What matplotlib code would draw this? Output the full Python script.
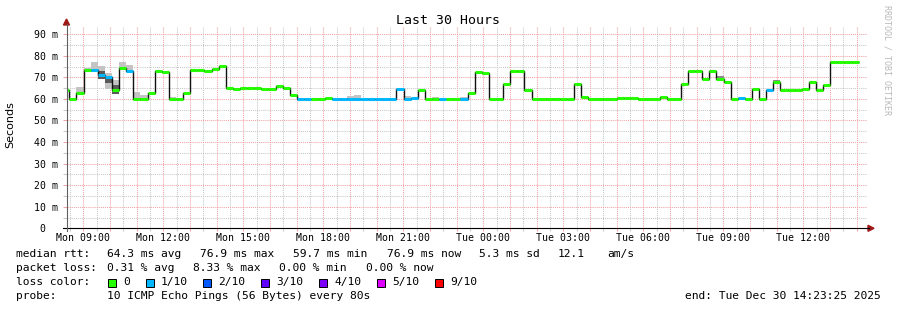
import matplotlib
matplotlib.use('Agg')
import matplotlib.pyplot as plt
from matplotlib.patches import Rectangle, Polygon
from matplotlib.lines import Line2D

# ---------------- data ----------------
# median RTT per 16-minute step (ms)
median_ms = [
    64.2, 60.1, 62.6, 73.3, 73.3, 71.1, 70.3, 64.1, 74.2, 73.0,
    60.1, 60.1, 62.6, 73.0, 72.5, 60.1, 60.1, 62.9, 73.4, 73.4,
    73.1, 74.0, 75.1, 64.9, 64.8, 64.9, 64.9, 64.9, 64.8, 64.8,
    66.1, 65.2, 62.0, 60.0, 60.0, 60.0, 60.0, 60.2, 59.9, 59.9,
    60.0, 60.0, 59.9, 59.9, 59.9, 59.9, 59.9, 64.5, 60.1, 60.6,
    64.0, 60.0, 60.0, 60.0, 60.0, 60.0, 60.0, 62.6, 72.5, 72.0,
    60.0, 60.0, 67.1, 73.0, 72.8, 64.0, 60.0, 60.0, 60.0, 60.0,
    60.0, 60.0, 66.9, 61.0, 60.1, 60.0, 60.0, 60.0, 60.5, 60.5,
    60.5, 60.0, 60.0, 60.0, 61.1, 60.0, 60.0, 66.8, 72.8, 72.8,
    69.2, 73.1, 69.3, 67.7, 60.0, 60.4, 60.0, 64.4, 60.0, 64.1,
    68.0, 64.0, 64.0, 64.0, 64.4, 67.8, 64.0, 66.6, 77.0, 77.0,
    76.9, 76.9,
]
# packet loss per step, in tenths
loss_tenths = [
    0, 0, 0, 0, 1, 1, 1, 0, 0, 1,
    0, 0, 0, 0, 0, 0, 0, 0, 0, 0,
    0, 0, 0, 0, 0, 0, 0, 0, 0, 0,
    0, 0, 0, 1, 1, 0, 0, 0, 1, 1,
    1, 1, 1, 1, 1, 1, 1, 1, 1, 1,
    0, 0, 0, 1, 0, 0, 1, 0, 0, 0,
    0, 0, 0, 0, 0, 0, 0, 0, 0, 0,
    0, 0, 0, 0, 0, 0, 0, 0, 0, 0,
    0, 0, 0, 0, 0, 0, 0, 0, 0, 0,
    0, 0, 0, 0, 0, 1, 0, 0, 0, 1,
    0, 0, 0, 0, 0, 0, 0, 0, 0, 0,
    0, 0,
]
# smoke (ping spread) for steps where it is visible
smoke_idx = [2, 3, 4, 5, 6, 7, 8, 9, 10, 11, 15, 40, 41, 48, 52, 56, 92, 100, 102]
smoke_lo = [62.5, 73.0, 72.5, 69.1, 64.6, 62.4, 73.5, 72.5, 60.0, 60.0,
            60.0, 60.0, 60.0, 60.0, 60.0, 60.0, 69.3, 68.0, 64.0]
smoke_hi = [65.4, 74.2, 77.1, 75.3, 72.2, 68.8, 77.0, 75.5, 63.3, 62.0,
            61.0, 61.5, 62.0, 61.2, 60.8, 60.8, 70.6, 68.9, 64.6]
dark_idx = [5, 6, 7]
dark_lo = [69.1, 67.2, 62.4]
dark_hi = [73.0, 70.3, 66.6]
mid_idx = [92, 100]
mid_lo = [69.3, 68.0]
mid_hi = [70.6, 68.9]

# time axis (hours since Mon 08:23:25)
step_hours = 960 / 3600.0
first_step_end = 0.086
hour0 = 0.6097  # Mon 09:00
x_tick_labels = ["Mon 09:00", "Mon 12:00", "Mon 15:00", "Mon 18:00", "Mon 21:00",
                 "Tue 00:00", "Tue 03:00", "Tue 06:00", "Tue 09:00", "Tue 12:00"]
y_tick_values = [0, 10, 20, 30, 40, 50, 60, 70, 80, 90]
y_tick_labels = ["0  ", "10 m", "20 m", "30 m", "40 m", "50 m", "60 m", "70 m", "80 m", "90 m"]

loss_levels = ["0", "1/10", "2/10", "3/10", "4/10", "5/10", "9/10"]
loss_colors = ["#26ff00", "#00b8ff", "#0059ff", "#5e00ff", "#7e00ff", "#dd00ff", "#ff0000"]

stats_rtt = ["64.3 ms avg", "76.9 ms max", "59.7 ms min", "76.9 ms now", "5.3 ms sd", "12.1", "am/s"]
stats_loss = ["0.31 % avg", "8.33 % max", "0.00 % min", "0.00 % now"]

# ---------------- figure ----------------
W, H = 897, 310
plt.rcParams['font.family'] = ['DejaVu Sans Mono']
fig = plt.figure(figsize=(W / 100, H / 100), dpi=100)
fig.patch.set_facecolor('white')


def fx(px):
    return px / W


def fy(py):
    return 1 - py / H


L, R, B, T = 67, 867, 228.3, 26
ax = fig.add_axes([fx(L), fy(B), (R - L) / W, (B - T) / H])
ax.set_xlim(0, 30)
ax.set_ylim(0, 93.8)
ax.set_facecolor('white')
for s in ax.spines.values():
    s.set_visible(False)

n = len(median_ms)
edges = [0.0] + [first_step_end + k * step_hours for k in range(n)]

# smoke
def bars(idx, lo, hi, color):
    for i, a, b in zip(idx, lo, hi):
        ax.bar(edges[i], b - a, bottom=a, width=edges[i + 1] - edges[i],
               align='edge', color=color, linewidth=0, zorder=2)

bars(smoke_idx, smoke_lo, smoke_hi, '#c4c4c4')
bars(mid_idx, mid_lo, mid_hi, '#8c8c8c')
bars(dark_idx, dark_lo, dark_hi, '#5a5a5a')

# median line
ax.stairs(median_ms, edges, baseline=None, color='#111111', linewidth=1.0, zorder=3)
# loss-coloured median bars
cols = [loss_colors[l] for l in loss_tenths]
hl = ax.hlines(median_ms, edges[:-1], edges[1:], colors=cols, linewidth=2.2, zorder=4)
hl.set_capstyle('butt')

# grid & ticks
major_x = [hour0 + k for k in range(30)]
minor_x = [hour0 - 0.5 + k for k in range(30)]
ax.set_xticks(major_x)
xl = []
j = 0
for k in range(30):
    if k % 3 == 0:
        xl.append(x_tick_labels[j])
        j += 1
    else:
        xl.append('')
ax.set_xticklabels(xl)
ax.set_xticks(minor_x, minor=True)
ax.set_yticks(y_tick_values)
ax.set_yticklabels(y_tick_labels)
ax.set_yticks([5 + 10 * k for k in range(9)], minor=True)

pink = '#f2a2a2'
gray = '#c8c8c8'
ax.set_axisbelow(True)
ax.grid(True, which='major', color=pink, linestyle=(0, (1, 1)), linewidth=0.75)
ax.grid(True, which='minor', color=gray, linestyle=(0, (1, 1)), linewidth=0.75)
ax.tick_params(axis='x', which='major', direction='out', length=2.2, width=0.75,
               color=pink, labelsize=7.1, pad=1.5)
ax.tick_params(axis='x', which='minor', direction='out', length=2.2, width=0.75,
               color=gray)
ax.tick_params(axis='y', which='major', direction='out', length=3, width=0.75,
               color=pink, labelsize=7.1, pad=3.2)
ax.tick_params(axis='y', which='minor', direction='out', length=3, width=0.75,
               color=gray)

# axis lines with arrows
fig.add_artist(Line2D([fx(63), fx(869)], [fy(228.3), fy(228.3)], color='black', lw=0.8))
fig.add_artist(Polygon([(fx(868), fy(225.3)), (fx(874), fy(228.3)), (fx(868), fy(231.3))],
                       closed=True, color='#a01818', transform=fig.transFigure))
fig.add_artist(Line2D([fx(66.5), fx(66.5)], [fy(231), fy(24)], color='#606060', lw=0.8))
fig.add_artist(Polygon([(fx(63.5), fy(25)), (fx(66.5), fy(19)), (fx(69.5), fy(25))],
                       closed=True, color='#a01818', transform=fig.transFigure))

# titles
fig.text(fx(448), fy(20), "Last 30 Hours", ha='center', va='center', fontsize=9.5)
fig.text(fx(10), fy(125), "Seconds", ha='center', va='center', rotation=90,
         fontsize=8, family='DejaVu Sans')
fig.text(fx(887), fy(60), "RRDTOOL / TOBI OETIKER", ha='center', va='center',
         rotation=270, fontsize=6, color='#b8b8b8')

# legend
fs = 8.1
fig.text(fx(16), fy(254.3), "median rtt:", va='center', fontsize=fs)
for s, x in zip(stats_rtt, [107, 200, 293, 387, 479, 558, 607]):
    fig.text(fx(x), fy(254.3), s, va='center', fontsize=fs)
fig.text(fx(16), fy(268.3), "packet loss:", va='center', fontsize=fs)
for s, x in zip(stats_loss, [107, 193, 279, 366]):
    fig.text(fx(x), fy(268.3), s, va='center', fontsize=fs)
fig.text(fx(16), fy(282.3), "loss color:", va='center', fontsize=fs)
for lab, c, x in zip(loss_levels, loss_colors, [108, 146, 203, 261, 319, 377, 435]):
    fig.add_artist(Rectangle((fx(x), fy(286.5)), 8 / W, 8 / H, facecolor=c,
                             edgecolor='black', lw=0.7, transform=fig.transFigure))
    fig.text(fx(x + 15), fy(282.3), lab, va='center', fontsize=fs)
fig.text(fx(16), fy(296.3), "probe:", va='center', fontsize=fs)
fig.text(fx(107), fy(296.3), "10 ICMP Echo Pings (56 Bytes) every 80s", va='center', fontsize=fs)
fig.text(fx(881), fy(296.3), "end: Tue Dec 30 14:23:25 2025", ha='right', va='center', fontsize=fs)

fig.savefig('out.png', dpi=100, facecolor='white')
